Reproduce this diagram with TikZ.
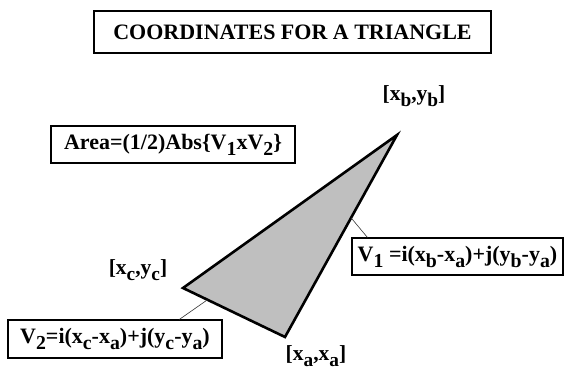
\documentclass[tikz,border=0pt]{standalone}
\usepackage{fontspec}
\setmainfont{Liberation Serif}
\usepackage{graphicx}
\usetikzlibrary{positioning,calc}

\newcommand{\subtxt}[1]{\raisebox{-0.6ex}{\scalebox{0.9}{#1}}}

\begin{document}
\begin{tikzpicture}[x=1pt, y=-1pt,
			box/.style={draw, line width=1.2pt, rectangle, inner sep=0pt, align=center, font=\fontsize{22}{26}\selectfont\bfseries},
			titlebox/.style={draw, line width=2.8pt, rectangle, inner sep=0pt, minimum width=397pt, minimum height=42pt, font=\fontsize{22}{26}\selectfont\bfseries},
			vlabel/.style={inner sep=0pt, font=\fontsize{21.5}{26}\selectfont\bfseries},
			tri/.style={draw, line width=2.6pt, fill=black!25},
			leader/.style={draw=black!80, line width=0.6pt}]
			
			\useasboundingbox (0,0) rectangle (565,372);
			
			\node[titlebox] (title) at (292.5,32) {COORDINATES FOR A TRIANGLE};
			
			% corners of the triangle
			\coordinate (a) at (285,337);
			\coordinate (b) at (397,135);
			\coordinate (c) at (183,288);
			\draw[tri] (a) -- (b) -- (c) -- cycle;
			
			\node[vlabel] (lb) at (414,96) {[x\subtxt{b},y\subtxt{b}]};
			\node[vlabel] (lc) at (138,270) {[x\subtxt{c},y\subtxt{c}]};
			\node[vlabel] (la) at (316,356) {[x\subtxt{a},x\subtxt{a}]};
			
			\node[box, minimum width=244pt, minimum height=37pt] (area) at (173,144.5) {Area=(1/2)Abs\{V\subtxt{1}xV\subtxt{2}\}};
			\node[box, minimum width=211pt, minimum height=37pt] (v1) at (457.5,256.5) {V\subtxt{1} =i(x\subtxt{b}-x\subtxt{a})+j(y\subtxt{b}-y\subtxt{a})};
			\node[box, minimum width=214pt, minimum height=38pt] (v2) at (115,339) {V\subtxt{2}=i(x\subtxt{c}-x\subtxt{a})+j(y\subtxt{c}-y\subtxt{a})};
			
			\coordinate (onab) at ($(b)!0.41!(a)$);
			\coordinate (onca) at ($(c)!0.24!(a)$);
			\draw[leader] ([xshift=16pt]v1.north west) -- (onab);
			\draw[leader] ([xshift=172pt]v2.north west) -- (onca);
			
		\end{tikzpicture}
\end{document}
